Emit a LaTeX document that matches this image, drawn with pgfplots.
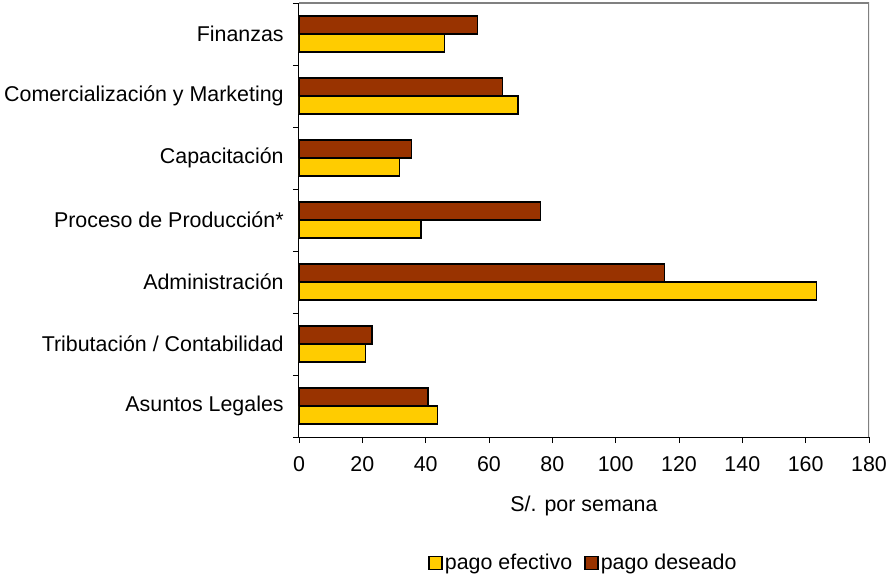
\documentclass[border=0pt]{standalone}
\usepackage{fontspec}
\setmainfont{Liberation Sans}
\usepackage{pgfplots}
\pgfplotsset{compat=1.18}
\definecolor{efect}{HTML}{FFCC00}
\definecolor{deseo}{HTML}{993300}
\pgfplotsset{sqlegend/.style={legend image code/.code={\draw[##1,line width=1.6pt] (0pt,-6.5pt) rectangle (13pt,6.5pt);}}}
\begin{document}
\fontsize{21.4}{25}\selectfont
\begin{tikzpicture}
\useasboundingbox (-299pt,-138pt) rectangle (589pt,437pt);
\begin{axis}[
  at={(0pt,0pt)}, anchor=south west,
  width=570pt, height=434pt, scale only axis,
  font=\fontsize{21.4}{25}\selectfont,
  /pgf/number format/assume math mode=true,
  xbar, bar width=18pt,
  xmin=0, xmax=180, xtick={0,20,...,180},
  ymin=-0.5, ymax=6.5,
  ytick={-0.5,0.5,...,6.5},
  y tick label as interval,
  yticklabels={Asuntos Legales,Tributación / Contabilidad,Administración,Proceso de Producción*,Capacitación,Comercialización y Marketing,Finanzas},
  yticklabel style={xshift=-2pt},
  xticklabel style={yshift=-6pt},
  tick align=outside, major tick length=6pt,
  tick style={black, line width=0.8pt},
  axis x line*=bottom, axis y line*=left,
  axis line style={black, line width=1pt},
  xlabel={S/. por semana},
  xlabel style={at={(axis description cs:0.5,-0.16)}, anchor=center},
  legend columns=2,
  legend style={at={(0.499,-0.29)}, anchor=center, draw=none, fill=none,
    /tikz/every even column/.append style={column sep=10pt}},
]
\addplot[fill=efect, draw=black, line width=1.5pt, bar shift=-9pt, sqlegend]
  coordinates {(43.7,0) (21.0,1) (163.4,2) (38.5,3) (31.8,4) (69.1,5) (46.0,6)};
\addplot[fill=deseo, draw=black, line width=1.5pt, bar shift=9pt, sqlegend]
  coordinates {(40.8,0) (23.0,1) (115.4,2) (76.3,3) (35.6,4) (64.3,5) (56.4,6)};
\legend{pago efectivo, pago deseado}
\draw[gray, line width=1.5pt] (rel axis cs:0,1) -- (rel axis cs:1,1) -- (rel axis cs:1,0);
\end{axis}
\end{tikzpicture}
\end{document}
